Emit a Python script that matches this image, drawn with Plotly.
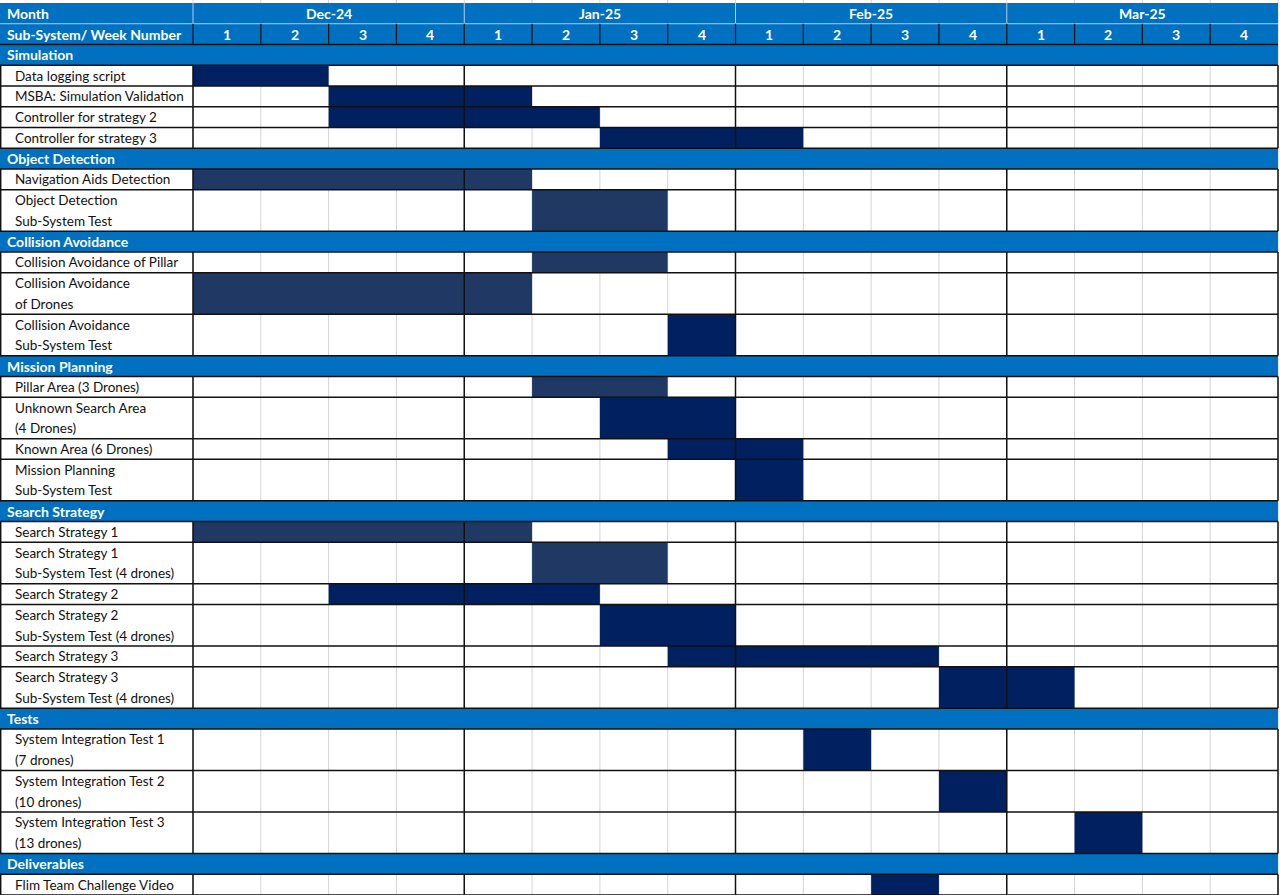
import plotly.graph_objects as go

# ---------------- data ----------------
months = ["Dec-24", "Jan-25", "Feb-25", "Mar-25"]
week_numbers = ["1", "2", "3", "4"] * 4
header_month = "Month"
header_week = "Sub-System/ Week Number"

section_names = ["Simulation", "Object Detection", "Collision Avoidance",
                 "Mission Planning", "Search Strategy", "Tests", "Deliverables"]
task_section = [0, 0, 0, 0, 1, 1, 2, 2, 2, 3, 3, 3, 3, 4, 4, 4, 4, 4, 4, 5, 5, 5, 6]
task_labels = [
    "Data logging script",
    "MSBA: Simulation Validation",
    "Controller for strategy 2",
    "Controller for strategy 3",
    "Navigation Aids Detection",
    "Object Detection\nSub-System Test",
    "Collision Avoidance of Pillar",
    "Collision Avoidance\nof Drones",
    "Collision Avoidance\nSub-System Test",
    "Pillar Area (3 Drones)",
    "Unknown Search Area\n(4 Drones)",
    "Known Area (6 Drones)",
    "Mission Planning\nSub-System Test",
    "Search Strategy 1",
    "Search Strategy 1\nSub-System Test (4 drones)",
    "Search Strategy 2",
    "Search Strategy 2\nSub-System Test (4 drones)",
    "Search Strategy 3",
    "Search Strategy 3\nSub-System Test (4 drones)",
    "System Integration Test 1\n(7 drones)",
    "System Integration Test 2\n(10 drones)",
    "System Integration Test 3\n(13 drones)",
    "Flim Team Challenge Video",
]
# first week (1..16 across the four months) and number of weeks
task_start_week = [1, 3, 3, 7, 1, 6, 6, 1, 8, 6, 7, 8, 9, 1, 6, 3, 7, 8, 12, 10, 12, 14, 11]
task_duration = [2, 3, 4, 3, 5, 2, 2, 5, 1, 2, 2, 2, 1, 5, 2, 4, 2, 4, 2, 1, 1, 1, 1]
task_shade = ["dark", "dark", "dark", "dark", "mid", "mid", "mid", "mid", "dark",
              "mid", "dark", "dark", "dark", "mid", "mid", "dark", "dark", "dark",
              "dark", "dark", "dark", "dark", "dark"]

# spreadsheet cells that were merged/white-filled (no week gridlines): task, first week, weeks
blank_task = [0, 1, 2]
blank_start_week = [5, 6, 7]
blank_weeks = [4, 3, 2]

# ---------------- style ----------------
BLUE = "#0070C0"
SHADES = {"dark": "#002060", "mid": "#203864"}
GRID = "#d4d4d4"
BLACK = "#111111"
FONT = "Lato"

N_WEEKS = len(week_numbers)
COL_PX = (1278 - 193) / N_WEEKS
X_LEFT = -193 / COL_PX
X_RIGHT = N_WEEKS + 2 / COL_PX
ROW_PX = 892 / 43
Y_TOP = -3 / ROW_PX

# ---------------- row layout ----------------
rows = []  # (kind, index, top, height)
cursor = 2.0
for s, name in enumerate(section_names):
    rows.append(("section", s, cursor, 1.0))
    cursor += 1.0
    for t, sec in enumerate(task_section):
        if sec == s:
            h = float(len(task_labels[t].split("\n")))
            rows.append(("task", t, cursor, h))
            cursor += h
Y_BOTTOM = cursor

task_top = {}
task_h = {}
for kind, idx, top, h in rows:
    if kind == "task":
        task_top[idx] = top
        task_h[idx] = h

fig = go.Figure()

# bars
for shade, color in SHADES.items():
    ids = [i for i in range(len(task_labels)) if task_shade[i] == shade]
    fig.add_trace(go.Bar(
        orientation="h",
        y=[task_top[i] + task_h[i] / 2 for i in ids],
        x=[task_duration[i] for i in ids],
        base=[task_start_week[i] - 1 for i in ids],
        width=[task_h[i] for i in ids],
        marker=dict(color=color, line=dict(width=0)),
        hoverinfo="skip",
        showlegend=False,
    ))

shapes = []
annotations = []

# gray week gridlines (below)
for c in range(0, N_WEEKS + 1):
    shapes.append(dict(type="line", xref="x", yref="y", x0=c, x1=c, y0=Y_TOP, y1=Y_BOTTOM,
                       line=dict(color=GRID, width=1), layer="below"))

# white merged cells hiding gridlines
for t, s0, n in zip(blank_task, blank_start_week, blank_weeks):
    shapes.append(dict(type="rect", xref="x", yref="y", x0=s0 - 1 + 0.02, x1=s0 - 1 + n - 0.02,
                       y0=task_top[t], y1=task_top[t] + task_h[t],
                       fillcolor="white", line=dict(width=0), layer="below"))

# header band
shapes.append(dict(type="rect", xref="x", yref="y", x0=X_LEFT, x1=N_WEEKS, y0=0, y1=2,
                   fillcolor=BLUE, line=dict(width=0), layer="below"))
# section bands
for kind, idx, top, h in rows:
    if kind == "section":
        shapes.append(dict(type="rect", xref="x", yref="y", x0=X_LEFT, x1=N_WEEKS, y0=top, y1=top + h,
                           fillcolor=BLUE, line=dict(width=0), layer="below"))

# month row separators (light)
for m in range(len(months)):
    shapes.append(dict(type="line", xref="x", yref="y", x0=m * 4, x1=m * 4, y0=0, y1=1,
                       line=dict(color="#b9cde6", width=1), layer="above"))
shapes.append(dict(type="line", xref="x", yref="y", x0=X_LEFT, x1=N_WEEKS, y0=1, y1=1,
                   line=dict(color="#b9cde6", width=1), layer="above"))
# week row separators (black)
for c in range(0, N_WEEKS):
    shapes.append(dict(type="line", xref="x", yref="y", x0=c, x1=c, y0=1, y1=2,
                       line=dict(color=BLACK, width=1.2), layer="above"))

# task blocks: black month boundaries
blocks = []
for kind, idx, top, h in rows:
    if kind == "task":
        if blocks and abs(blocks[-1][1] - top) < 1e-9:
            blocks[-1][1] = top + h
        else:
            blocks.append([top, top + h])
for y0, y1 in blocks:
    for c in [X_LEFT + 0.01, 0, 4, 8, 12, 16]:
        shapes.append(dict(type="line", xref="x", yref="y", x0=c, x1=c, y0=y0, y1=y1,
                           line=dict(color=BLACK, width=1.5), layer="above"))

# horizontal black lines
boundaries = sorted(set([2.0] + [r[2] for r in rows] + [r[2] + r[3] for r in rows]))
for yb in boundaries:
    shapes.append(dict(type="line", xref="x", yref="y", x0=X_LEFT, x1=N_WEEKS, y0=yb, y1=yb,
                       line=dict(color=BLACK, width=1.5), layer="above"))

# ---------------- text ----------------
HEAD_X = X_LEFT + 5 / COL_PX
LABEL_X = X_LEFT + 13 / COL_PX
white_bold = dict(family=FONT, size=14, color="white", weight="bold")

annotations.append(dict(x=HEAD_X, y=0.5, text=f"<b>{header_month}</b>", xanchor="left", yanchor="middle",
                        showarrow=False, font=white_bold))
annotations.append(dict(x=HEAD_X, y=1.5, text=f"<b>{header_week}</b>", xanchor="left", yanchor="middle",
                        showarrow=False, font=white_bold))
for m, name in enumerate(months):
    annotations.append(dict(x=m * 4 + 2, y=0.5, text=f"<b>{name}</b>", xanchor="center", yanchor="middle",
                            showarrow=False, font=white_bold))
for c, w in enumerate(week_numbers):
    annotations.append(dict(x=c + 0.5, y=1.5, text=f"<b>{w}</b>", xanchor="center", yanchor="middle",
                            showarrow=False, font=white_bold))

for kind, idx, top, h in rows:
    if kind == "section":
        annotations.append(dict(x=HEAD_X, y=top + 0.5, text=f"<b>{section_names[idx]}</b>",
                                xanchor="left", yanchor="middle", showarrow=False, font=white_bold))
    else:
        for i, line in enumerate(task_labels[idx].split("\n")):
            annotations.append(dict(x=LABEL_X, y=top + i + 0.5, text=line, xanchor="left", yanchor="middle",
                                    showarrow=False, font=dict(family=FONT, size=13.5, color="#111111")))

fig.update_layout(
    width=1280, height=895,
    margin=dict(l=0, r=0, t=0, b=0),
    paper_bgcolor="white", plot_bgcolor="white",
    xaxis=dict(range=[X_LEFT, X_RIGHT], visible=False, fixedrange=True),
    yaxis=dict(range=[Y_BOTTOM, Y_TOP], visible=False, fixedrange=True),
    shapes=shapes, annotations=annotations,
    barmode="overlay", showlegend=False,
)

fig.write_html("out.html")
